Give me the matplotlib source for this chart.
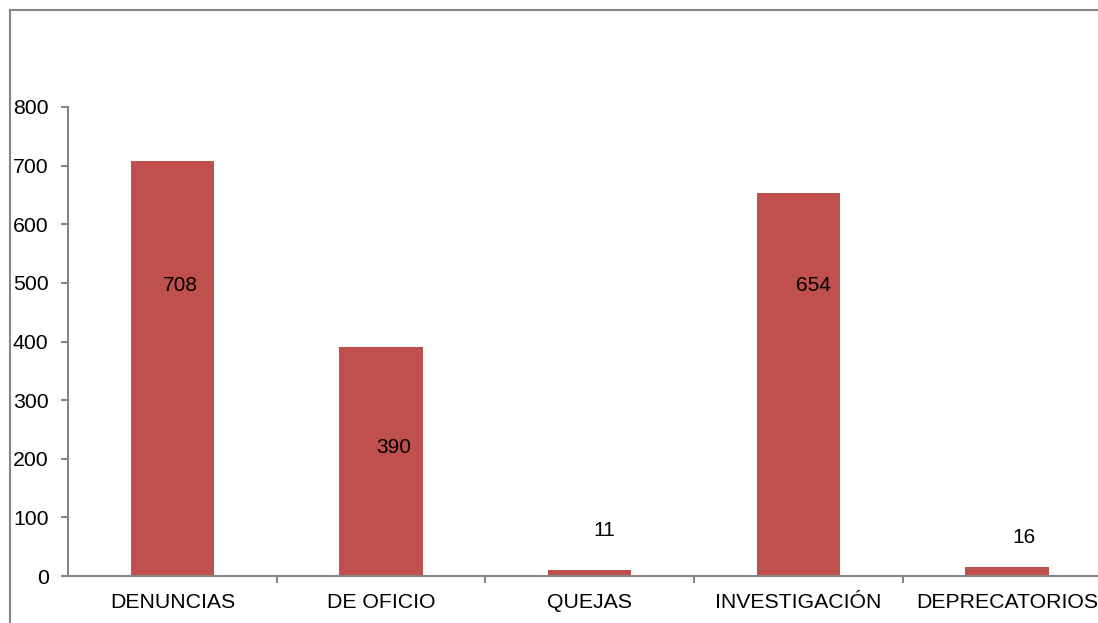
import numpy as np
import matplotlib

matplotlib.use("Agg")
import matplotlib.pyplot as plt
from matplotlib.lines import Line2D

CATEGORIES = ["DENUNCIAS", "DE OFICIO", "QUEJAS", "INVESTIGACIÓN", "DEPRECATORIOS"]
VALUES = [708, 390, 11, 654, 16]
LABEL_Y = [496, 220, 77, 496, 65]  # where the data labels sit (data units)
LABEL_DX = [0.04, 0.06, 0.07, 0.07, 0.08]  # small rightward nudge of each label

BAR_COLOR = "#C0504D"
AXIS_COLOR = "#868686"

plt.rcParams["font.family"] = ["Liberation Sans", "DejaVu Sans"]

fig = plt.figure(figsize=(10.98, 6.23), dpi=100)
ax = fig.add_axes([68 / 1098, 1 - 576 / 623, 1043.5 / 1098, 469 / 623])

x = np.arange(len(CATEGORIES))
ax.bar(x, VALUES, width=0.4, color=BAR_COLOR, zorder=2)
for xi, v, ly, dx in zip(x, VALUES, LABEL_Y, LABEL_DX):
    ax.text(xi + dx, ly, str(v), ha="center", va="center", fontsize=15, color="black")

ax.set_xlim(-0.5, len(CATEGORIES) - 0.5)
ax.set_ylim(0, 800)
ax.set_yticks(np.arange(0, 801, 100))
ax.set_xticks(x)
ax.set_xticklabels(CATEGORIES)
ax.set_xticks(np.arange(0.5, len(CATEGORIES) - 0.5, 1), minor=True)

for s in ("top", "right"):
    ax.spines[s].set_visible(False)
for s in ("left", "bottom"):
    ax.spines[s].set_color(AXIS_COLOR)
    ax.spines[s].set_linewidth(1.5)

ax.tick_params(axis="y", direction="out", length=5, width=1.5, color=AXIS_COLOR,
               labelsize=15.3, pad=9)
ax.tick_params(axis="x", which="major", length=0, labelsize=15.3, pad=12)
ax.tick_params(axis="x", which="minor", direction="out", length=5, width=1.5,
               color=AXIS_COLOR)

# chart-area border (top and left edges visible)
fig.add_artist(Line2D([10 / 1098, 1], [1 - 10 / 623] * 2, transform=fig.transFigure,
                      color=AXIS_COLOR, lw=1.5))
fig.add_artist(Line2D([10 / 1098] * 2, [0, 1 - 10 / 623], transform=fig.transFigure,
                      color=AXIS_COLOR, lw=1.5))

fig.savefig("out.png", dpi=100)
